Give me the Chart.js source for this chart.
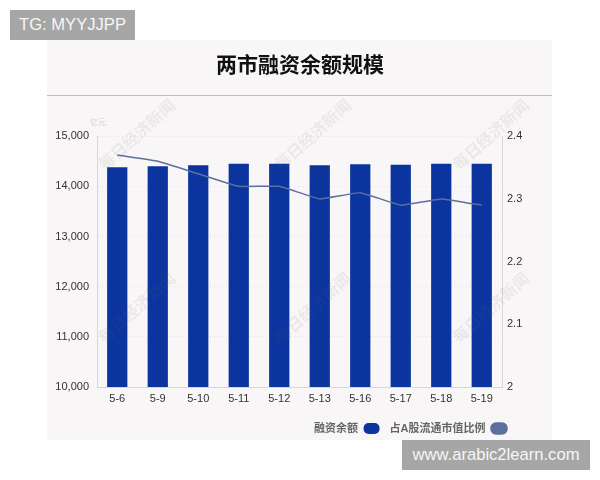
<!DOCTYPE html>
<html>
<head>
<meta charset="utf-8">
<script src="https://cdn.jsdelivr.net/npm/chart.js@4"></script>
<style>
  body { margin: 0; width: 600px; height: 480px; background: #fff; position: relative; overflow: hidden; font-family: "Liberation Sans", "Noto Sans CJK SC", sans-serif; }
  #panel { position: absolute; left: 47px; top: 40px; width: 505px; height: 400px; background: #f9f6f8; }
  #rule { position: absolute; left: 47px; top: 95px; width: 505px; height: 1px; background: #bdbbbd; }
  #wrap { position: absolute; left: 0; top: 0; width: 600px; height: 480px; }
  .tag { position: absolute; background: #a6a6a6; color: #f6f6f6; font-size: 16.6px; height: 30px; line-height: 30px; text-align: center; }
  #tg { left: 10px; top: 10px; width: 125px; }
  #site { left: 402px; top: 440px; width: 188px; }
  .mark { position: absolute; width: 120px; margin-left: -60px; margin-top: -10px; text-align: center; font: bold 16px "Noto Sans CJK SC", serif; color: rgba(110,110,110,0.1); transform: rotate(-42deg); white-space: nowrap; }
  #unit { position: absolute; left: 90px; top: 116px; font-size: 8px; color: #d4d2d4; }
</style>
</head>
<body>
<div id="panel"></div>
<div id="rule"></div>
<div id="unit">亿元</div>
<div id="wrap"><canvas id="chart" width="600" height="480"></canvas></div>
<div class="mark" style="left:136px;top:132px">每日经济新闻</div>
<div class="mark" style="left:312px;top:132px">每日经济新闻</div>
<div class="mark" style="left:490px;top:132px">每日经济新闻</div>
<div class="mark" style="left:136px;top:305px">每日经济新闻</div>
<div class="mark" style="left:312px;top:305px">每日经济新闻</div>
<div class="mark" style="left:490px;top:305px">每日经济新闻</div>
<div class="tag" id="tg">TG: MYYJJPP</div>
<div class="tag" id="site">www.arabic2learn.com</div>
<script>
var dates = ['5-6', '5-9', '5-10', '5-11', '5-12', '5-13', '5-16', '5-17', '5-18', '5-19'];
var balance = [14380, 14400, 14420, 14450, 14450, 14420, 14440, 14430, 14450, 14450];
var ratio = [2.37, 2.36, 2.34, 2.32, 2.32, 2.30, 2.31, 2.29, 2.30, 2.29];

var font = '"Liberation Sans", "Noto Sans CJK SC", sans-serif';

// legend sits flush with the right axis labels, not the canvas edge
var legendRight = {
    id: 'legendRight',
    afterLayout: function(chart) {
        chart.legend.width = 517;
        chart.legend.right = 517;
    }
};

new Chart(document.getElementById('chart'), {
    type: 'bar',
    plugins: [legendRight],
    data: {
        labels: dates,
        datasets: [
            { type: 'line', label: '占A股流通市值比例', data: ratio, yAxisID: 'y2', borderColor: '#5d6f9c', backgroundColor: '#5d6f9c', borderWidth: 1.5, pointRadius: 0, tension: 0.08, order: 1 },
            { label: '融资余额', data: balance, yAxisID: 'y', backgroundColor: '#0b349f', barPercentage: 0.5, categoryPercentage: 1, order: 2 }
        ]
    },
    options: {
        responsive: false,
        animation: false,
        layout: { padding: { left: 0, right: 0, top: 0, bottom: 36 } },
        plugins: {
            title: { display: true, text: '两市融资余额规模', color: '#111', font: { family: font, size: 21, weight: 'bold' }, padding: { top: 54, bottom: 57 } },
            tooltip: { enabled: false },
            legend: {
                position: 'bottom', align: 'start', rtl: true,
                labels: { boxWidth: 16, boxHeight: 11, useBorderRadius: true, borderRadius: 5, padding: 10, color: '#666', font: { family: font, size: 11, weight: 'bold' } }
            }
        },
        scales: {
            x: {
                offset: true,
                grid: { display: false },
                border: { color: '#d9d6d9' },
                ticks: { color: '#333', font: { family: font, size: 11 }, autoSkip: false, maxRotation: 0, padding: -3 },
                afterFit: function(scale) { scale.height = 26; }
            },
            y: {
                min: 10000, max: 15000,
                ticks: { stepSize: 1000, color: '#333', padding: 8, font: { family: font, size: 11 }, callback: function(v) { return v.toLocaleString('en-US'); } },
                grid: { color: '#e2dfe2', tickLength: 0 },
                border: { color: '#d9d6d9', dash: [1, 3] },
                afterFit: function(scale) { scale.width = 97; }
            },
            y2: {
                position: 'right', min: 2, max: 2.4,
                ticks: { stepSize: 0.1, color: '#333', padding: -3, font: { family: font, size: 11 }, callback: function(v) { return String(+v.toFixed(1)); } },
                grid: { display: false },
                border: { color: '#d9d6d9' },
                afterFit: function(scale) { scale.width = 98; }
            }
        }
    }
});
</script>
</body>
</html>
